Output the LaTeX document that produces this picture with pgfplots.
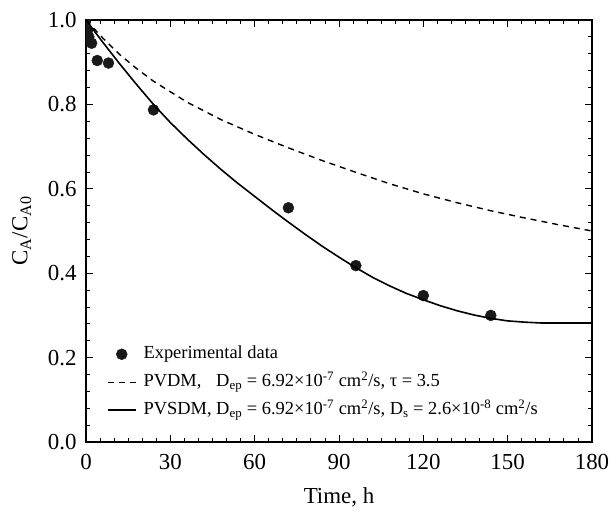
\documentclass[border=0pt]{standalone}
\usepackage{fontspec}
\setmainfont{Liberation Serif}
\usepackage{pgfplots}
\pgfplotsset{compat=1.18}

\begin{document}
\begin{tikzpicture}
\begin{axis}[
  scale only axis, width=506bp, height=422bp,
  xmin=0, xmax=180, ymin=0, ymax=1,
  xtick={0,30,60,90,120,150,180},
  ytick={0,0.2,0.4,0.6,0.8,1.0},
  minor x tick num=5, minor y tick num=4,
  tick align=inside, major tick length=7bp, minor tick length=4bp,
  axis line style={line width=1.1bp},
  every tick/.style={black, line width=0.8bp},
  clip marker paths=true,
  /pgf/number format/assume math mode=true,
  y tick label style={/pgf/number format/.cd, fixed, fixed zerofill, precision=1, /tikz/.cd},
  tick label style={font=\fontsize{23}{26}\selectfont},
  x tick label style={yshift=-9bp},
  y tick label style={xshift=-6bp},
  label style={font=\fontsize{23}{26}\selectfont},
  xlabel={Time, h},
  ylabel={C\textsubscript{A}/C\textsubscript{A0}},
  xlabel style={at={(axis description cs:0.5,-0.132)}, anchor=center},
  ylabel style={at={(axis description cs:-0.127,0.5)}, anchor=center},
  legend style={at={(axis description cs:0.041,0.238)}, anchor=north west,
    draw=none, fill=none, inner sep=0pt,
    font=\fontsize{18.5}{22}\selectfont,
    nodes={text height=15bp, text depth=6bp},
    row sep=3bp, column sep=5bp},
  legend cell align=left,
  legend image code/.code={\draw[#1] (0bp,0bp) -- (28bp,0bp);},
]
% experimental points
\addplot[only marks, mark=*, mark size=5.5bp, black!90,
  legend image code/.code={\draw[##1, mark repeat=2, mark phase=2] plot coordinates {(0bp,0bp) (14bp,0bp) (28bp,0bp)};}]
  coordinates {
  (0,1.0) (0.5,0.975) (1,0.96) (2,0.945) (4,0.904) (8,0.898)
  (24,0.787) (72,0.555) (96,0.418) (120,0.347) (144,0.300)
};
\addlegendentry{Experimental data}
% PVDM
\addplot[black, line width=1.4bp, dash pattern=on 6bp off 5bp] coordinates {
  (0,1.0) (6,0.957) (12,0.918) (18,0.885) (24,0.855) (36,0.805) (48,0.764) (60,0.729)
  (72,0.697) (84,0.667) (96,0.639) (108,0.612) (120,0.588) (132,0.567)
  (144,0.548) (156,0.531) (168,0.515) (180,0.50)
};
\addlegendentry{\rlap{PVDM,}\phantom{PVSDM,} D\textsubscript{ep} = 6.92×10\textsuperscript{-7} cm\textsuperscript{2}/s, τ = 3.5}
% PVSDM
\addplot[black, line width=1.6bp] coordinates {
  (0,1.000) (6,0.947) (12,0.896) (18,0.847) (24,0.800) (30,0.757) (36,0.718)
  (42,0.681) (48,0.646) (54,0.613) (60,0.582) (66,0.551) (72,0.521)
  (78,0.492) (84,0.464) (90,0.438) (96,0.413) (102,0.390) (108,0.370)
  (114,0.352) (120,0.337) (126,0.323) (132,0.311) (138,0.301) (144,0.293)
  (150,0.287) (156,0.284) (162,0.282) (180,0.282)
};
\addlegendentry{PVSDM, D\textsubscript{ep} = 6.92×10\textsuperscript{-7} cm\textsuperscript{2}/s, D\textsubscript{s} = 2.6×10\textsuperscript{-8} cm\textsuperscript{2}/s}
\end{axis}
\pgfresetboundingbox
\path[use as bounding box] (current axis.south west) ++(-86bp,-70bp) rectangle ++(612bp,512bp);
\end{tikzpicture}
\end{document}
